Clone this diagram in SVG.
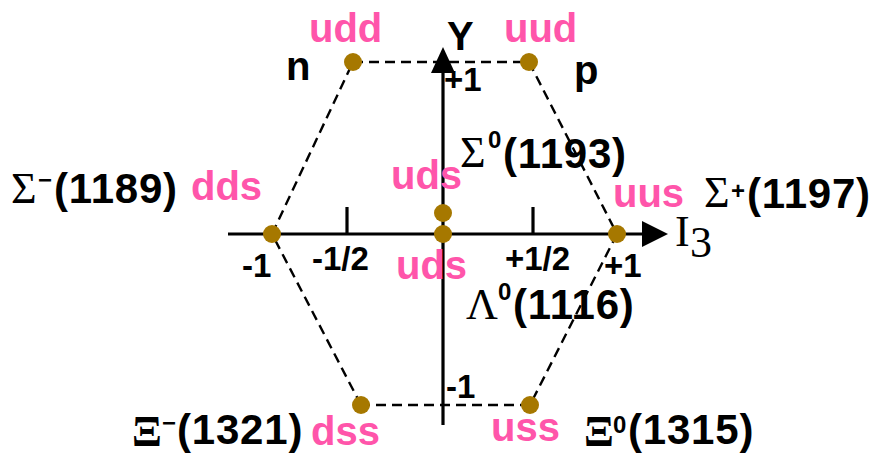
<svg xmlns="http://www.w3.org/2000/svg" width="872" height="455" viewBox="0 0 872 455">
<style>
.q{font-family:"Liberation Sans",Arial,sans-serif;font-weight:bold;font-size:40px;fill:#FF55AA}
.b{font-family:"Liberation Sans",Arial,sans-serif;font-weight:bold;font-size:40px;fill:#000}
.m{font-family:"Liberation Sans",Arial,sans-serif;font-weight:bold;font-size:42px;letter-spacing:0.8px;fill:#000}
.ax{font-family:"Liberation Sans",Arial,sans-serif;font-weight:bold;font-size:33px;fill:#000}
.sup{font-family:"Liberation Sans",Arial,sans-serif;font-weight:bold;font-size:24px;fill:#000}
.g{font-family:"Liberation Serif","Times New Roman",serif;font-size:44px;fill:#000}
.dash{stroke:#000;stroke-width:2.4;stroke-dasharray:10 6;fill:none}
.axis{stroke:#000;stroke-width:3.2;fill:none}
.dot{fill:#A67800}
</style>
<rect width="872" height="455" fill="#fff"/>
<g id="connectors">
<line class="dash" x1="353" y1="62" x2="529" y2="62"/>
<line class="dash" x1="529" y1="62" x2="617" y2="234"/>
<line class="dash" x1="617" y1="234" x2="530" y2="405"/>
<line class="dash" x1="530" y1="405" x2="361" y2="405"/>
<line class="dash" x1="361" y1="405" x2="272" y2="234"/>
<line class="dash" x1="272" y1="234" x2="353" y2="62"/>
</g>
<g id="axes">
<line class="axis" x1="443" y1="70" x2="443" y2="425"/>
<polygon points="443,47 431,73 455,73" fill="#000"/>
<line class="axis" x1="228" y1="234" x2="645" y2="234"/>
<polygon points="668,234 642,221 642,247" fill="#000"/>
<line class="axis" x1="347" y1="207" x2="347" y2="234"/>
<line class="axis" x1="533" y1="207" x2="533" y2="234"/>
<text class="b" x="447" y="50">Y</text>
<text class="g" x="675" y="246" font-size="40">I</text>
<text class="g" x="690" y="257" font-size="26">3</text>
<text class="ax" x="444" y="91">+1</text>
<text class="ax" x="242" y="277">-1</text>
<text class="ax" x="312" y="270" font-size="35">-1/2</text>
<text class="ax" x="505" y="270" font-size="35">+1/2</text>
<text class="ax" x="604" y="277">+1</text>
<text class="ax" x="446" y="398" font-size="31">-1</text>
</g>
<g id="n">
<circle class="dot" cx="353" cy="62" r="9"/>
<text class="q" x="309" y="42">udd</text>
<text class="b" x="286" y="80">n</text>
</g>
<g id="p">
<circle class="dot" cx="529" cy="62" r="9"/>
<text class="q" x="504" y="42">uud</text>
<text class="b" x="574" y="84">p</text>
</g>
<g id="sigma-minus">
<circle class="dot" cx="272" cy="234" r="9"/>
<text class="q" x="191" y="200">dds</text>
<text class="g" x="11" y="203">Σ</text>
<text class="sup" x="38" y="188">−</text>
<text class="m" x="54" y="203">(1189)</text>
</g>
<g id="sigma-zero">
<circle class="dot" cx="443" cy="213" r="9"/>
<text class="q" x="391" y="189">uds</text>
<text class="g" x="460" y="167">Σ</text>
<text class="sup" x="488" y="148" font-size="22">0</text>
<text class="m" x="503" y="168">(1193)</text>
</g>
<g id="lambda-zero">
<circle class="dot" cx="443" cy="234" r="9"/>
<text class="q" x="396" y="279">uds</text>
<text class="g" x="466" y="319" font-size="42">Λ</text>
<text class="sup" x="498" y="300" font-size="25">0</text>
<text class="m" x="513" y="319">(1116)</text>
</g>
<g id="sigma-plus">
<circle class="dot" cx="617" cy="234" r="9"/>
<text class="q" x="613" y="207">uus</text>
<text class="g" x="704" y="207">Σ</text>
<text class="sup" x="731" y="199" font-size="26">+</text>
<text class="m" x="747" y="208">(1197)</text>
</g>
<g id="xi-minus">
<circle class="dot" cx="361" cy="405" r="9"/>
<text class="q" x="311" y="445">dss</text>
<text class="g" x="132" y="446" font-weight="bold" font-size="42">Ξ</text>
<text class="sup" x="162" y="431" font-size="22">−</text>
<text class="m" x="177" y="444">(1321)</text>
</g>
<g id="xi-zero">
<circle class="dot" cx="530" cy="405" r="9"/>
<text class="q" x="491" y="441">uss</text>
<text class="g" x="584" y="446" font-weight="bold" font-size="42">Ξ</text>
<text class="sup" x="613" y="433" font-size="22">0</text>
<text class="m" x="628" y="444">(1315)</text>
</g>
</svg>
